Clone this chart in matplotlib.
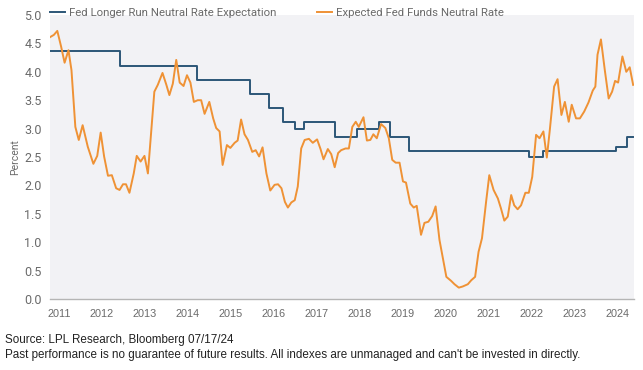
# Fed neutral rate: longer run expectation vs market-implied neutral rate

import matplotlib.pyplot as plt
from matplotlib.lines import Line2D

# Fed longer run neutral rate expectation (step changes, decimal years)
fed_dates = [2011.0, 2012.63, 2014.42, 2015.65, 2016.09, 2016.42, 2016.70,
             2016.91, 2017.63, 2018.16, 2018.67, 2018.91, 2019.37, 2022.16,
             2022.47, 2024.19, 2024.44, 2024.58]
fed_values = [4.37, 4.11, 3.86, 3.61, 3.36, 3.11, 3.00,
              3.11, 2.85, 3.00, 3.11, 2.85, 2.61, 2.50,
              2.61, 2.68, 2.85, 2.85]

# Expected fed funds neutral rate
mkt_dates = [
    2011.00, 2011.09, 2011.17, 2011.26, 2011.34, 2011.43, 2011.50, 2011.59,
    2011.67, 2011.76, 2011.88, 2012.01, 2012.10, 2012.18, 2012.26, 2012.35,
    2012.44, 2012.54, 2012.62, 2012.70, 2012.77, 2012.85, 2012.95, 2013.02,
    2013.11, 2013.20, 2013.28, 2013.43, 2013.51, 2013.62, 2013.71, 2013.78,
    2013.86, 2013.94, 2014.02, 2014.11, 2014.19, 2014.27, 2014.35, 2014.44,
    2014.52, 2014.60, 2014.71, 2014.80, 2014.87, 2014.95, 2015.02, 2015.12,
    2015.20, 2015.30, 2015.37, 2015.45, 2015.53, 2015.61, 2015.71, 2015.79,
    2015.87, 2015.95, 2016.04, 2016.13, 2016.23, 2016.31, 2016.39, 2016.47,
    2016.54, 2016.62, 2016.70, 2016.77, 2016.85, 2016.93, 2017.03, 2017.12,
    2017.22, 2017.30, 2017.37, 2017.47, 2017.55, 2017.63, 2017.71, 2017.78,
    2017.88, 2017.96, 2018.04, 2018.12, 2018.19, 2018.30, 2018.38, 2018.46,
    2018.53, 2018.61, 2018.71, 2018.81, 2018.89, 2018.97, 2019.05, 2019.14,
    2019.22, 2019.29, 2019.39, 2019.47, 2019.54, 2019.64, 2019.72, 2019.81,
    2019.90, 2019.98, 2020.07, 2020.23, 2020.34, 2020.42, 2020.52, 2020.61,
    2020.73, 2020.81, 2020.90, 2020.98, 2021.06, 2021.16, 2021.23, 2021.33,
    2021.43, 2021.50, 2021.58, 2021.66, 2021.74, 2021.81, 2021.89, 2021.97,
    2022.07, 2022.15, 2022.23, 2022.32, 2022.40, 2022.49, 2022.57, 2022.64,
    2022.74, 2022.82, 2022.91, 2022.99, 2023.08, 2023.15, 2023.25, 2023.34,
    2023.44, 2023.54, 2023.64, 2023.70, 2023.75, 2023.83, 2023.92, 2024.01,
    2024.09, 2024.16, 2024.23, 2024.33, 2024.42, 2024.50, 2024.58]
mkt_values = [
    4.61, 4.65, 4.72, 4.44, 4.16, 4.38, 4.03, 3.03,
    2.80, 3.06, 2.68, 2.38, 2.52, 2.93, 2.51, 2.17,
    2.18, 1.95, 1.92, 2.02, 2.02, 1.87, 2.21, 2.52,
    2.42, 2.52, 2.21, 3.65, 3.77, 3.98, 3.77, 3.59,
    3.79, 4.21, 3.81, 3.75, 3.94, 3.81, 3.47, 3.50,
    3.50, 3.26, 3.47, 3.18, 3.01, 2.95, 2.36, 2.71,
    2.66, 2.75, 2.79, 3.16, 2.90, 2.80, 2.59, 2.62,
    2.51, 2.67, 2.21, 1.91, 2.01, 2.02, 1.95, 1.71,
    1.61, 1.70, 1.74, 1.98, 2.65, 2.80, 2.82, 2.75,
    2.81, 2.64, 2.46, 2.64, 2.55, 2.32, 2.57, 2.62,
    2.65, 2.65, 3.03, 3.12, 3.03, 3.20, 2.79, 2.80,
    2.90, 2.83, 3.08, 3.01, 2.83, 2.45, 2.40, 2.40,
    2.07, 2.05, 1.68, 1.61, 1.64, 1.13, 1.34, 1.36,
    1.46, 1.63, 1.04, 0.39, 0.32, 0.26, 0.20, 0.22,
    0.26, 0.33, 0.39, 0.83, 1.07, 1.74, 2.18, 1.92,
    1.77, 1.60, 1.38, 1.45, 1.83, 1.65, 1.58, 1.65,
    1.87, 1.87, 2.15, 2.89, 2.83, 2.95, 2.49, 2.98,
    3.74, 3.87, 3.24, 3.47, 3.12, 3.42, 3.18, 3.18,
    3.30, 3.46, 3.67, 3.74, 4.30, 4.57, 4.03, 3.53,
    3.65, 3.84, 3.81, 4.27, 4.00, 4.08, 3.77]

years = list(range(2011, 2025))
year_labels = [str(y) for y in years]
y_ticks = [0.0, 0.5, 1.0, 1.5, 2.0, 2.5, 3.0, 3.5, 4.0, 4.5, 5.0]

blue = "#2c5677"
orange = "#ef9235"
grey = "#6a6a6a"

fig = plt.figure(figsize=(6.43, 3.70), dpi=100)
ax = fig.add_axes([50 / 643, 1 - 299 / 370, 584 / 643, 284 / 370])
ax.set_facecolor("#f2f2f5")

ax.plot(fed_dates, fed_values, color=blue, lw=1.4, drawstyle="steps-post")
ax.plot(mkt_dates, mkt_values, color=orange, lw=1.4)

ax.set_xlim(2011.0, 2024.6)
ax.set_ylim(0, 5)
ax.set_yticks(y_ticks)
ax.set_yticklabels([f"{v:.1f}" for v in y_ticks], family="Roboto",
                   fontsize=9, color=grey)
# labels sit a little right of Jan 1 in the source chart
ax.set_xticks([y + 0.21 for y in years])
ax.set_xticklabels(year_labels, family="Liberation Sans",
                   fontsize=7.8, color=grey)
ax.tick_params(axis="both", length=0)
ax.tick_params(axis="y", pad=6)
ax.tick_params(axis="x", pad=7)

for side in ["top", "right", "left"]:
    ax.spines[side].set_visible(False)
ax.spines["bottom"].set_color("#b5b5b5")
ax.spines["bottom"].set_linewidth(1.0)

ax.set_ylabel("Percent", family="Roboto", fontsize=7.5, color=grey,
              labelpad=3)

handles = [Line2D([], [], color=blue, lw=1.4),
           Line2D([], [], color=orange, lw=1.4)]
ax.legend(handles, ["Fed Longer Run Neutral Rate Expectation",
                    "Expected Fed Funds Neutral Rate"],
          loc="lower left", bbox_to_anchor=(0.0, 0.99), ncol=2,
          frameon=False, borderaxespad=0, borderpad=0,
          handlelength=1.3, handletextpad=0.35, columnspacing=3.6,
          prop={"family": "Roboto", "size": 8.2}, labelcolor=grey)

fig.text(5 / 643, 1 - 340 / 370, "Source: LPL Research, Bloomberg 07/17/24",
         family="Liberation Sans", fontsize=8.4, color="#222222",
         va="center")
fig.text(5 / 643, 1 - 355 / 370,
         "Past performance is no guarantee of future results. All indexes are "
         "unmanaged and can't be invested in directly.",
         family="Liberation Sans", fontsize=8.4, color="#222222",
         va="center")

fig.savefig("out.png", dpi=100)
